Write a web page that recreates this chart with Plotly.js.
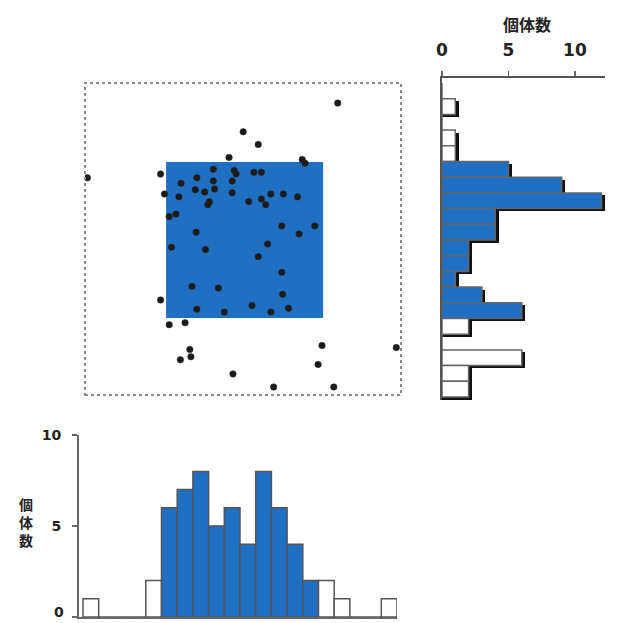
<!DOCTYPE html>
<html>
<head>
<meta charset="utf-8">
<script src="https://cdn.plot.ly/plotly-3.0.1.min.js"></script>
<style>html,body{margin:0;padding:0;background:#fff;}#chart{width:617px;height:623px;}</style>
</head>
<body>
<div id="chart"></div>
<script>
// Scatter points (x, y in bin units; y counted downward from the top)
const pointX = [16.22,10.20,11.16,9.30,13.96,14.14,0.28,4.94,8.30,9.63,9.75,10.88,11.36,7.25,6.24,8.30,9.50,7.15,7.75,8.38,9.50,5.19,6.11,11.96,12.76,13.66,8.05,7.95,10.55,11.36,11.64,5.49,5.92,12.66,14.76,7.20,13.76,5.64,7.80,11.76,11.16,12.66,6.94,8.62,12.71,4.94,10.76,7.25,9.00,11.96,13.09,5.49,6.50,15.22,19.95,6.80,6.87,6.20,14.97,9.55,12.14,15.97];
const pointY = [1.28,3.11,3.91,4.74,4.87,5.11,6.04,5.80,5.49,5.57,5.80,5.69,5.69,6.04,6.39,6.24,6.24,6.80,6.94,6.75,6.99,7.07,7.25,7.07,7.07,7.25,7.57,7.75,7.55,7.39,7.75,8.50,8.35,9.10,9.10,9.50,9.61,10.46,10.61,10.25,11.06,12.06,12.96,13.06,13.46,13.82,14.17,14.41,14.59,14.59,14.34,15.39,15.27,16.72,16.85,16.97,17.43,17.63,17.92,18.53,19.36,19.36];

// Highlighted square (bin units)
const squareX = [5.29, 15.29];
const squareY = [5.03, 14.97];

// Histogram counts per bin (20 bins)
const countsX = [1,0,0,0,2,6,7,8,5,6,4,8,6,4,2,2,1,0,0,1];
const countsY = [0,1,0,1,1,5,9,12,4,4,2,2,1,3,6,2,0,6,2,2];
const selFirst = 5, selLast = 14;

const axisTitle = "個体数";
const countTicks = [0, 5, 10];
const countTickText = ["0", "5", "10"];

const BLUE = "#1f6fc2";
const binCenters = countsX.map((_, i) => i + 0.5);
const fillFor = i => (i >= selFirst && i <= selLast) ? BLUE : "#ffffff";

const FONT = "DejaVu Sans, Noto Sans CJK JP, sans-serif";

const traces = [
  {
    type: "scatter", mode: "markers", x: pointX, y: pointY, xaxis: "x", yaxis: "y",
    marker: {size: 6.5, color: "#1b1b1b", line: {width: 1, color: "rgba(40,40,40,0.5)"}},
    hoverinfo: "skip", showlegend: false
  },
  {
    type: "bar", x: binCenters, y: countsX, xaxis: "x2", yaxis: "y2", width: 1,
    marker: {color: countsX.map((_, i) => fillFor(i)), line: {color: "#555", width: 1.5}},
    hoverinfo: "skip", showlegend: false
  },
  {
    type: "bar", orientation: "h", y: binCenters, x: countsY.map(v => v > 0 ? v + 0.25 : 0),
    xaxis: "x3", yaxis: "y3", width: 1, offset: -0.34,
    marker: {color: "#111", line: {width: 0}},
    hoverinfo: "skip", showlegend: false
  },
  {
    type: "bar", orientation: "h", y: binCenters, x: countsY, xaxis: "x3", yaxis: "y3", width: 1,
    marker: {color: countsY.map((_, i) => fillFor(i)), line: {color: "#666", width: 1.5}},
    hoverinfo: "skip", showlegend: false
  }
];

const W = 617, H = 623;
const px = v => v / W, py = v => 1 - v / H;

const hidden = {showgrid: false, zeroline: false, showticklabels: false, ticks: "", showline: false, fixedrange: true};
const tickFontSmall = {size: 14, family: FONT, color: "#222", weight: "bold"};

const layout = {
  width: W, height: H,
  margin: {l: 0, r: 0, t: 0, b: 0},
  paper_bgcolor: "#fff", plot_bgcolor: "rgba(0,0,0,0)",
  barmode: "overlay", bargap: 0,
  font: {family: FONT, color: "#222"},
  xaxis: Object.assign({}, hidden, {domain: [px(85), px(401)], range: [0.127, 20.25], anchor: "y"}),
  yaxis: Object.assign({}, hidden, {domain: [py(395), py(83)], range: [19.87, 0], anchor: "x"}),
  xaxis2: Object.assign({}, hidden, {domain: [px(79), px(397)], range: [-0.255, 20], anchor: "y2",
    showline: true, linecolor: "#666", linewidth: 2}),
  yaxis2: {domain: [py(617), py(435)], range: [0, 10], anchor: "x2", showgrid: false, zeroline: false,
    showline: true, linecolor: "#666", linewidth: 2, ticks: "outside", ticklen: 5, tickwidth: 1.5, tickcolor: "#666",
    tickvals: countTicks, ticktext: countTickText, ticklabelstandoff: 8,
    tickfont: tickFontSmall, fixedrange: true},
  xaxis3: {domain: [px(442), px(605)], range: [0, 12.26], anchor: "y3", side: "top", showgrid: false, zeroline: false,
    showline: true, linecolor: "#555", linewidth: 2, ticks: "outside", ticklen: 5, tickwidth: 1.5, tickcolor: "#666",
    tickvals: countTicks, ticktext: countTickText, ticklabelstandoff: 8,
    tickfont: {size: 17, family: FONT, color: "#222", weight: "bold"}, fixedrange: true},
  yaxis3: Object.assign({}, hidden, {domain: [py(400), py(78)], range: [20.19, -0.318], anchor: "x3",
    showline: true, linecolor: "#555", linewidth: 2}),
  shapes: [
    {type: "rect", xref: "x", yref: "y", layer: "below",
     x0: squareX[0], x1: squareX[1], y0: squareY[0], y1: squareY[1],
     fillcolor: BLUE, line: {width: 0}},
    {type: "rect", xref: "x domain", yref: "y domain", x0: 0, x1: 1, y0: 0, y1: 1,
     line: {color: "#8a8a8a", width: 2, dash: "dot"}}
  ],
  annotations: [
    {text: axisTitle, xref: "paper", yref: "paper", x: px(527), y: py(24), xanchor: "center", yanchor: "middle",
     showarrow: false, font: {size: 16, family: "Noto Sans CJK JP", color: "#222", weight: "bold"}},
    {text: Array.from(axisTitle).join("<br>"), xref: "paper", yref: "paper", x: px(26), y: py(522),
     xanchor: "center", yanchor: "middle", showarrow: false,
     font: {size: 14, family: "Noto Sans CJK JP", color: "#222", weight: "bold"}},
    // zero label of the lower count axis, kept just inside the page's bottom edge
    {text: countTickText[0], xref: "paper", yref: "paper", x: px(66), y: 0, xanchor: "right", yanchor: "bottom",
     yshift: 1, showarrow: false, font: tickFontSmall}
  ]
};

Plotly.newPlot("chart", traces, layout, {staticPlot: true, displayModeBar: false});
</script>
</body>
</html>
